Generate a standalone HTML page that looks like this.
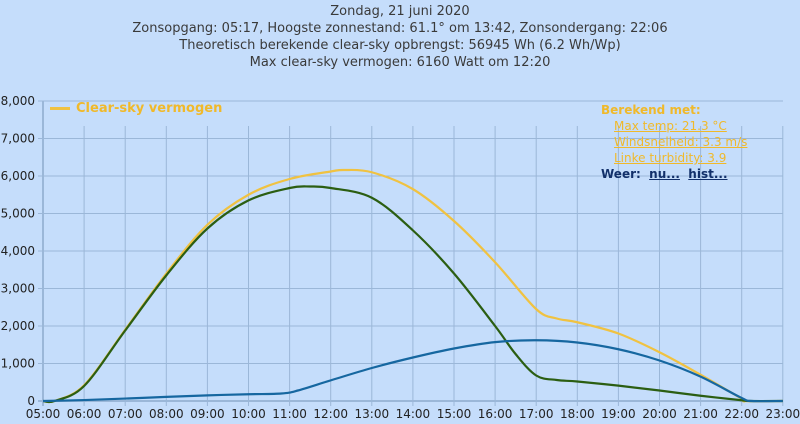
<!DOCTYPE html>
<html><head><meta charset="utf-8"><style>
body{margin:0;width:800px;height:424px;background:#c5ddfb;overflow:hidden;font-family:"DejaVu Sans",Verdana,sans-serif;}
#t{position:absolute;top:3px;left:0;width:800px;text-align:center;color:#3a3a3a;font-size:13px;line-height:17px;}
svg{position:absolute;top:0;left:0}
</style></head><body>
<div id="t">Zondag, 21 juni 2020<br>Zonsopgang: 05:17, Hoogste zonnestand: 61.1° om 13:42, Zonsondergang: 22:06<br>Theoretisch berekende clear-sky opbrengst: 56945 Wh (6.2 Wh/Wp)<br>Max clear-sky vermogen: 6160 Watt om 12:20</div>
<svg id="c" width="800" height="424"></svg>
<script>
const yTicks=[0,1000,2000,3000,4000,5000,6000,7000,8000];
const xTicks=[5,6,7,8,9,10,11,12,13,14,15,16,17,18,19,20,21,22,23];
const clearT=[5.0,5.28,6,7,8,9,10,11,12,12.33,13,14,15,16,17,17.5,18,19,20,21,22,22.1,23];
const clearV=[0,0,420,1900,3400,4700,5500,5920,6120,6160,6100,5650,4800,3700,2450,2200,2100,1800,1300,700,60,0,0];
const greenT=[5.0,5.28,6,7,8,9,10,11,11.5,12,13,14,15,16,16.5,17,17.5,18,19,20,21,22,22.2,23];
const greenV=[0,0,400,1880,3350,4600,5350,5680,5720,5680,5420,4550,3400,2000,1250,680,560,520,410,280,140,20,0,0];
const blueT=[5,6,7,8,9,10,10.8,11.2,12,13,14,15,16,17,18,19,20,21,22,22.25,23];
const blueV=[0,25,65,110,150,180,200,280,550,880,1160,1400,1570,1620,1560,1380,1080,650,80,0,0];
const X=h=>43+(h-5)*41.1, Y=v=>401-v*0.0375;
const s=document.getElementById('c'),NS='http://www.w3.org/2000/svg';
function mk(tag,a,txt){const e=document.createElementNS(NS,tag);for(const k in a)e.setAttribute(k,a[k]);if(txt!=null)e.textContent=txt;s.appendChild(e);return e;}
yTicks.forEach(v=>{
 const l=mk('line',{x1:38,x2:783,y1:Y(v),y2:Y(v),stroke:'#9bb7d8','stroke-width':v==0?2:1});
 
 
 const t=mk('text',{x:35,y:Y(v)+4,'text-anchor':'end','font-size':12,fill:'#222'},v.toLocaleString('en-US'));
 
 
});
xTicks.forEach(h=>{
 const l=mk('line',{x1:X(h),x2:X(h),y1:h==5?101:126,y2:406,stroke:'#9bb7d8','stroke-width':h==5?2:1});
 
 
 const t=mk('text',{x:X(h),y:418,'text-anchor':'middle','font-size':12,fill:'#222'},(h<10?'0':'')+h+':00');
 
 
});
function path(T,V){const p=T.map((t,i)=>[X(t),Y(V[i])]);let d='M'+p[0];
 for(let i=0;i<p.length-1;i++){const a=p[i-1]||p[i],b=p[i],c=p[i+1],e=p[i+2]||c;
  const c1=[b[0]+(c[0]-a[0])/6,b[1]+(c[1]-a[1])/6],c2=[c[0]-(e[0]-b[0])/6,c[1]-(e[1]-b[1])/6];
  d+=' C'+c1+' '+c2+' '+c;}return d;}
const ls=[[clearT,clearV,'#f0c241','clear-sky-line'],[greenT,greenV,'#2b5e12','actual-power-line'],[blueT,blueV,'#1667a0','secondary-power-line']];
ls.forEach(([T,V,c,n])=>{const p=mk('path',{d:path(T,V),fill:'none',stroke:c,'stroke-width':2.2});
 
 });
</script>
<div style="position:absolute;left:50px;top:101px;color:#f0b92a;font-weight:bold;font-size:13px"><span style="display:inline-block;width:20px;height:3px;background:#f0c241;vertical-align:middle;margin-right:6px"></span>Clear-sky vermogen</div>
<div style="position:absolute;left:601px;top:102px;font-size:12px;line-height:16px;color:#f0b92a">
<b>Berekend met:</b><br>
<span style="margin-left:13px;text-decoration:underline">Max temp: 21.3 °C</span><br>
<span style="margin-left:13px;text-decoration:underline">Windsnelheid: 3.3 m/s</span><br>
<span style="margin-left:13px;text-decoration:underline">Linke turbidity: 3.9</span><br>
<b style="color:#12306a">Weer: &nbsp;<u>nu...</u> &nbsp;<u>hist...</u></b>
</div>
</body></html>
